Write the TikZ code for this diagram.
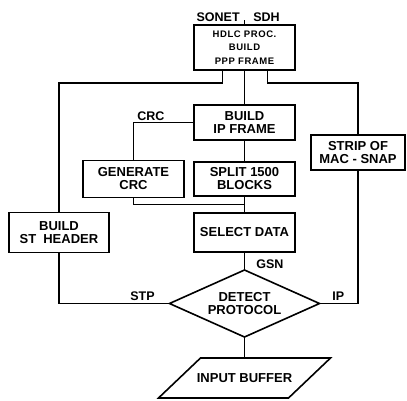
\documentclass[tikz,border=0pt]{standalone}
\usepackage{fontspec}
\setmainfont{Liberation Sans}
\usetikzlibrary{positioning,shapes.geometric,calc}

\begin{document}
\begin{tikzpicture}[x=1pt,y=1pt,line width=1.6pt,font=\fontsize{13}{13}\selectfont\bfseries,
  box/.style={draw,align=center,minimum width=101pt,inner sep=2pt,outer sep=0pt},
  lbl/.style={inner sep=1pt,font=\fontsize{12.5}{12.5}\selectfont\bfseries}]
\useasboundingbox (0,0) rectangle (407,-400);
\node[box,minimum height=45pt,font=\fontsize{9.5}{13.5}\selectfont\bfseries\addfontfeature{LetterSpace=6}] (hdlc) at (244.5,-47.5) {HDLC PROC.\\BUILD\\PPP FRAME};
\node[box,minimum height=35pt,below=35pt of hdlc] (ipframe) {BUILD\\IP FRAME};
\node[box,minimum height=34pt,below=22pt of ipframe] (split) {SPLIT 1500\\BLOCKS};
\node[box,minimum height=39pt,below=17pt of split] (select) {SELECT DATA};
\node[box,minimum height=37pt,left=10pt of split] (gencrc) {GENERATE\\CRC};
\node[box,minimum height=40pt,minimum width=100pt,left=85pt of select] (stheader) {BUILD\\ST\hspace{7pt}HEADER};
\node[box,minimum height=35pt,minimum width=94pt,below right=-5pt and 16pt of ipframe] (strip) {STRIP OF\\MAC - SNAP};
\node[draw,diamond,aspect=2.24,inner sep=0pt,outer sep=0pt,minimum width=150pt,minimum height=67pt,align=center,below=18pt of select] (detect) {DETECT\\PROTOCOL};
\node[minimum width=172pt,minimum height=40pt,outer sep=0pt,below=21pt of detect] (inbuf) {INPUT BUFFER};
\draw ([xshift=42pt]inbuf.north west) -- (inbuf.north east) -- ([xshift=-42pt]inbuf.south east) -- (inbuf.south west) -- cycle;

\coordinate (feed) at ([yshift=5pt]hdlc.north);
\coordinate (join) at ($(split.south)!0.5!(select.north)$);
\coordinate (crccorner) at (gencrc.north |- ipframe.west);

\draw (feed) -- (hdlc);
\draw (hdlc) -- (ipframe);
\draw ([xshift=-22pt]hdlc.south) -- ++(0,-13) -| (stheader);
\draw ([xshift=23pt]hdlc.south) -- ++(0,-13) -| (strip);
\draw (ipframe.west) -| (gencrc);
\draw (ipframe) -- (split);
\draw (split) -- (select);
\draw (gencrc) |- (join);
\draw (select) -- (detect);
\draw (detect.west) -| (stheader);
\draw (detect.east) -| (strip);
\draw (detect) -- (inbuf);

\node[lbl,above left=-3pt and 3pt of feed] (sonet) {SONET};
\node[lbl,above right=-3pt and 7pt of feed] (sdh) {SDH};
\node[lbl,above right=0pt and 2pt of crccorner] (crclbl) {CRC};
\node[lbl,above right=0pt and 10pt of detect.north] (gsn) {GSN};
\node[lbl,above left=1pt and 13pt of detect.west] (stp) {STP};
\node[lbl,above right=1pt and 11pt of detect.east] (ip) {IP};
\end{tikzpicture}
\end{document}
